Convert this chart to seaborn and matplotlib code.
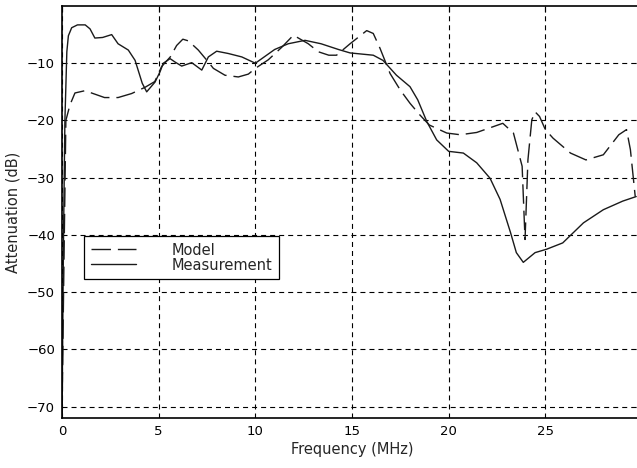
import pandas as pd
import matplotlib
matplotlib.use('Agg')
import matplotlib.pyplot as plt
import seaborn as sns

# Measured attenuation (solid curve)
meas_freq = [0.0, 0.08, 0.15, 0.25, 0.33, 0.5, 0.8, 1.2, 1.45, 1.7, 2.1, 2.57, 2.9,
             3.43, 3.78, 4.15, 4.38, 4.81, 5.07, 5.24, 5.59, 5.85, 6.19, 6.71, 7.23,
             7.57, 8.0, 8.6, 9.3, 10.0, 11.0, 11.7, 12.57, 13.4, 14.3, 14.9, 16.1,
             16.6, 17.3, 18.0, 18.4, 18.87, 19.38, 20.0, 20.76, 21.45, 22.14, 22.66,
             23.2, 23.5, 23.86, 24.47, 25.07, 25.9, 26.97, 28.0, 29.0, 29.7]
meas_db = [-72, -40, -20, -8, -5.2, -3.8, -3.3, -3.3, -4.0, -5.6, -5.5, -5.0, -6.6,
           -7.7, -9.5, -13.5, -15.0, -13.3, -11.5, -10.0, -9.2, -9.8, -10.5, -9.9, -11.2,
           -8.9, -7.9, -8.3, -8.9, -10.0, -7.6, -6.6, -6.0, -6.6, -7.6, -8.2, -8.6,
           -9.5, -12.1, -14.1, -16.4, -20.2, -23.4, -25.4, -25.7, -27.4, -30.1, -33.8,
           -39.6, -43.1, -44.8, -43.1, -42.5, -41.4, -37.9, -35.6, -34.1, -33.3]

# Model attenuation (dashed curve)
model_freq = [0.0, 0.1, 0.2, 0.41, 0.67, 1.19, 2.2, 2.9, 3.6, 4.3, 4.8, 5.15, 5.6,
              5.93, 6.25, 6.54, 7.05, 7.57, 7.83, 8.43, 9.12, 9.64, 10.0, 10.67, 11.37,
              11.97, 12.74, 13.26, 13.8, 14.2, 14.9, 15.76, 16.1, 16.45, 16.97, 17.5,
              18.0, 18.5, 19.0, 19.9, 20.6, 21.45, 22.8, 23.35, 23.8, 23.95, 24.1, 24.3,
              24.47, 24.7, 25.0, 25.4, 26.3, 27.1, 28.0, 28.8, 29.2, 29.4, 29.65]
model_db = [-72, -45, -20, -17.3, -15.2, -14.8, -16.0, -16.0, -15.3, -14.2, -13.2, -10.6, -8.9,
            -6.9, -5.8, -6.1, -7.7, -9.8, -10.9, -12.1, -12.4, -11.9, -10.9, -9.4, -7.2,
            -5.1, -6.6, -8.0, -8.6, -8.6, -6.6, -4.3, -4.8, -7.4, -11.8, -14.7,
            -17.0, -19.0, -20.8, -22.2, -22.5, -22.1, -20.5, -22.2, -28.0, -40.8, -26.9, -19.9,
            -18.5, -19.3, -21.6, -23.1, -25.7, -26.9, -26.0, -22.5, -21.6, -25.1, -33.3]

x_ticks = [0, 5, 10, 15, 20, 25]
y_ticks = [-70, -60, -50, -40, -30, -20, -10]

meas = pd.DataFrame({'Frequency': meas_freq, 'Attenuation': meas_db})
model = pd.DataFrame({'Frequency': model_freq, 'Attenuation': model_db})

sns.set_style('white')
plt.rcParams['font.family'] = ['DejaVu Sans']
plt.rcParams['lines.scale_dashes'] = False

fig = plt.figure(figsize=(6.37, 4.68), dpi=100)
ax = fig.add_axes([62 / 637, 50 / 468, 580 / 637, 412 / 468])

sns.lineplot(data=model, x='Frequency', y='Attenuation', ax=ax, color='#1a1a1a',
             linewidth=1.0, linestyle=(0, (14, 5)), estimator=None, label='Model')
sns.lineplot(data=meas, x='Frequency', y='Attenuation', ax=ax, color='#1a1a1a',
             linewidth=1.0, estimator=None, label='Measurement')

ax.set_xlim(0, 30)
ax.set_ylim(-72, 0)
ax.set_xticks(x_ticks)
ax.set_yticks(y_ticks)
ax.grid(True, color='black', linestyle=(0, (3.6, 2.9)), linewidth=0.8)
ax.tick_params(direction='in', length=4, width=0.8, top=True, right=True,
               labelsize=9.5, colors='black', pad=5)
for side in ['left', 'bottom', 'top', 'right']:
    ax.spines[side].set_color('black')
    ax.spines[side].set_linewidth(1.2)

ax.set_xlabel('Frequency (MHz)', fontsize=10.5, labelpad=3)
ax.set_ylabel('Attenuation (dB)', fontsize=10.5, labelpad=5)

leg = ax.legend(loc='upper left', bbox_to_anchor=(22 / 580, 182 / 412), fontsize=10.5,
                frameon=True, fancybox=False, framealpha=1, edgecolor='black',
                borderaxespad=0, handlelength=3.14, handletextpad=2.4, labelspacing=0.0,
                borderpad=0.45)
leg.get_frame().set_linewidth(0.9)

fig.savefig('out.png', dpi=100)
